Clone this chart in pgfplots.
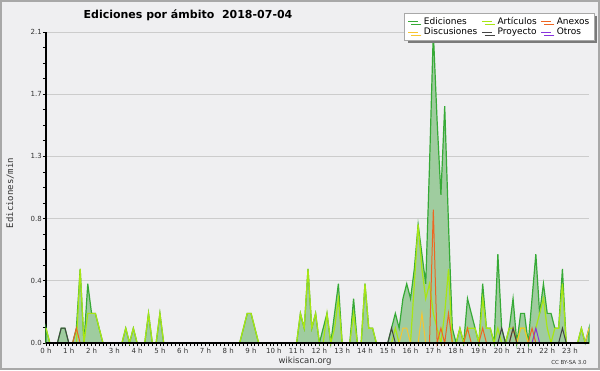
\documentclass[border=0pt]{standalone}
\usepackage{fontspec}
\setmainfont{DejaVu Sans}
\newfontfamily\monofont{DejaVu Sans Mono}
\usepackage{pgfplots}
\pgfplotsset{compat=1.18}
\usepackage{pgfplotstable}
\usetikzlibrary{shadows}
\definecolor{bg}{HTML}{EFEFF1}
\definecolor{framegray}{HTML}{A8A8A8}
\definecolor{gridgray}{HTML}{CCCCCC}
\definecolor{edline}{HTML}{36AA36}
\definecolor{edfill}{HTML}{9FCC9F}
\definecolor{artc}{HTML}{A8E614}
\definecolor{anxc}{HTML}{EE6622}
\definecolor{discc}{HTML}{F7C531}
\definecolor{proyc}{HTML}{444444}
\definecolor{otrc}{HTML}{8833DD}
\definecolor{labc}{HTML}{333333}
\definecolor{shadowgray}{HTML}{7A7A7A}

\pgfplotstableread{
i ed art anx disc proy otr
0 0.1 0.1 0 0 0 0
1 0 0 0 0 0 0
2 0 0 0 0 0 0
3 0 0 0 0 0 0
4 0.1 0 0 0 0.1 0
5 0.1 0 0 0 0.1 0
6 0 0 0 0 0 0
7 0 0 0 0 0 0
8 0.1 0 0.1 0 0 0
9 0.5 0.5 0 0 0 0
10 0 0 0 0 0 0
11 0.4 0.2 0 0 0 0
12 0.2 0.2 0 0 0 0
13 0.2 0.2 0 0 0 0
14 0.1 0.1 0 0 0 0
15 0 0 0 0 0 0
16 0 0 0 0 0 0
17 0 0 0 0 0 0
18 0 0 0 0 0 0
19 0 0 0 0 0 0
20 0 0 0 0 0 0
21 0.1 0.1 0 0 0 0
22 0 0 0 0 0 0
23 0.1 0.1 0 0 0 0
24 0 0 0 0 0 0
25 0 0 0 0 0 0
26 0 0 0 0 0 0
27 0.2 0.2 0 0 0 0
28 0 0 0 0 0 0
29 0 0 0 0 0 0
30 0.2 0.2 0 0 0 0
31 0 0 0 0 0 0
32 0 0 0 0 0 0
33 0 0 0 0 0 0
34 0 0 0 0 0 0
35 0 0 0 0 0 0
36 0 0 0 0 0 0
37 0 0 0 0 0 0
38 0 0 0 0 0 0
39 0 0 0 0 0 0
40 0 0 0 0 0 0
41 0 0 0 0 0 0
42 0 0 0 0 0 0
43 0 0 0 0 0 0
44 0 0 0 0 0 0
45 0 0 0 0 0 0
46 0 0 0 0 0 0
47 0 0 0 0 0 0
48 0 0 0 0 0 0
49 0 0 0 0 0 0
50 0 0 0 0 0 0
51 0 0 0 0 0 0
52 0.1 0.1 0 0 0 0
53 0.2 0.2 0 0 0 0
54 0.2 0.2 0 0 0 0
55 0.1 0.1 0 0 0 0
56 0 0 0 0 0 0
57 0 0 0 0 0 0
58 0 0 0 0 0 0
59 0 0 0 0 0 0
60 0 0 0 0 0 0
61 0 0 0 0 0 0
62 0 0 0 0 0 0
63 0 0 0 0 0 0
64 0 0 0 0 0 0
65 0 0 0 0 0 0
66 0 0 0 0 0 0
67 0.2 0.2 0 0 0 0
68 0.1 0.1 0 0 0 0
69 0.5 0.5 0 0 0 0
70 0.1 0.1 0 0 0 0
71 0.2 0.2 0 0 0 0
72 0 0 0 0 0 0
73 0.1 0 0 0 0 0
74 0.2 0.2 0 0 0 0
75 0 0 0 0 0 0
76 0.2 0.1 0 0 0 0
77 0.4 0.3 0 0 0 0
78 0 0 0 0 0 0
79 0 0 0 0 0 0
80 0 0 0 0 0 0
81 0.3 0.2 0 0 0 0
82 0 0 0 0 0 0
83 0 0 0 0 0 0
84 0.4 0.4 0 0 0 0
85 0.1 0.1 0 0 0 0
86 0.1 0.1 0 0 0 0
87 0 0 0 0 0 0
88 0 0 0 0 0 0
89 0 0 0 0 0 0
90 0 0 0 0 0 0
91 0.1 0 0 0 0.1 0
92 0.2 0.1 0 0 0 0
93 0.1 0 0 0 0 0
94 0.3 0 0 0.1 0 0
95 0.4 0 0 0.1 0 0
96 0.3 0 0 0 0 0
97 0.5 0.4 0 0 0 0
98 0.8 0.8 0 0 0 0
99 0.6 0.5 0 0.2 0 0
100 0.4 0.3 0 0 0 0
101 1.2 0.4 0 0 0 0
102 2.1 0.2 0.9 0 0 0
103 1.5 0.1 0 0 0 0
104 1.0 0 0.1 0 0 0
105 1.6 0.2 0 0 0 0
106 0.8 0.5 0.2 0 0 0
107 0.1 0 0 0 0 0
108 0 0 0 0 0 0
109 0.1 0.1 0 0 0 0
110 0 0 0 0 0 0
111 0.3 0.1 0.1 0 0 0
112 0.2 0.1 0 0 0 0
113 0.1 0.1 0 0 0 0
114 0 0 0 0 0 0
115 0.4 0.3 0.1 0 0 0
116 0.1 0.1 0 0 0 0
117 0.1 0.1 0 0 0 0
118 0 0 0 0 0 0
119 0.6 0.1 0 0 0 0
120 0.1 0 0 0 0.1 0
121 0 0 0 0 0 0
122 0.1 0.1 0 0 0 0
123 0.3 0.1 0.1 0 0.1 0
124 0 0 0 0 0 0
125 0.2 0.1 0 0.1 0 0
126 0.2 0.1 0 0.1 0 0
127 0 0 0 0 0 0
128 0.3 0 0.1 0 0 0
129 0.6 0.1 0 0 0 0.1
130 0.2 0.2 0 0 0 0
131 0.4 0.3 0 0 0 0
132 0.2 0.1 0 0 0 0
133 0.2 0 0 0 0 0
134 0.1 0.1 0 0 0 0
135 0.1 0.1 0 0 0 0
136 0.5 0.4 0 0 0.1 0
137 0 0 0 0 0 0
138 0 0 0 0 0 0
139 0 0 0 0 0 0
140 0 0 0 0 0 0
141 0.1 0.1 0 0 0 0
142 0 0 0 0 0 0
143 0.1 0 0 0.1 0 0
}\edits

\begin{document}
\begin{tikzpicture}[x=1pt,y=1pt]
\fill[bg] (0,0) rectangle (600,370);
\draw[framegray, line width=2pt] (1,1) rectangle (599,369);
\node[font=\bfseries\fontsize{11}{13}\selectfont, text=black] at (188,355) {Ediciones por ámbito\ \ 2018-07-04};
\node[font=\monofont\fontsize{9}{10}\selectfont, text=labc, rotate=90] at (10,177) {Ediciones/min};
\node[font=\fontsize{8.5}{10}\selectfont, text=labc] at (305,9) {wikiscan.org};
\node[font=\fontsize{5.5}{7}\selectfont, text=labc] at (569,8) {CC BY-SA 3.0};
\begin{axis}[
  at={(46pt,27pt)}, anchor=south west,
  scale only axis, width=543pt, height=311pt,
  xmin=0, xmax=143, ymin=0, ymax=2.1,
  clip=false,
  axis x line*=bottom, axis y line*=left,
  axis line style={black, line width=1.2pt, -},
  tick align=outside,
  major tick length=3pt, minor tick length=3pt,
  every tick/.style={black, line width=0.8pt},
  xtick={0,6,...,138},
  xticklabels={0 h,1 h,2 h,3 h,4 h,5 h,6 h,7 h,8 h,9 h,10 h,11 h,12 h,13 h,14 h,15 h,16 h,17 h,18 h,19 h,20 h,21 h,22 h,23 h},
  minor x tick num=5,
  ytick={0,0.42,0.84,1.26,1.68,2.1},
  yticklabels={0.0,0.4,0.8,1.3,1.7,2.1},
  minor y tick num=3,
  ymajorgrids,
  major grid style={gridgray, line width=0.8pt},
  ticklabel style={font=\fontsize{7}{8}\selectfont, text=labc},
  xticklabel style={inner sep=1pt, yshift=-1pt},
  yticklabel style={inner sep=1pt},
  legend columns=3,
  legend cell align=left,
  legend image code/.code={\draw[#1, fill=none] (0pt,0pt) -- (10pt,0pt);},
  legend style={at={(0.660,1.061)}, anchor=north west, draw=framegray, line width=0.8pt, fill=white,
    font=\fontsize{9}{9}\selectfont, inner xsep=3pt, inner ysep=2pt, row sep=-2pt,
    /tikz/every even column/.append style={column sep=2pt},
    /tikz/every odd column/.append style={column sep=3pt},
    drop shadow={shadow xshift=3pt, shadow yshift=-3pt, fill=shadowgray, opacity=1}},
]
\addplot[draw=edline, line width=1.2pt, fill=edfill] table[x=i, y=ed] {\edits} \closedcycle;
\addlegendentry{Ediciones}
\addplot[draw=artc, line width=1.2pt] table[x=i, y=art] {\edits};
\addlegendentry{Artículos}
\addplot[draw=anxc, line width=1pt] table[x=i, y=anx] {\edits};
\addlegendentry{Anexos}
\addplot[draw=discc, line width=1pt] table[x=i, y=disc] {\edits};
\addlegendentry{Discusiones}
\addplot[draw=proyc, line width=1pt] table[x=i, y=proy] {\edits};
\addlegendentry{Proyecto}
\addplot[draw=otrc, line width=1pt] table[x=i, y=otr] {\edits};
\addlegendentry{Otros}
\draw[black, line width=1.2pt] (axis cs:0,0) -- (axis cs:143,0);
\end{axis}
\end{tikzpicture}
\end{document}
